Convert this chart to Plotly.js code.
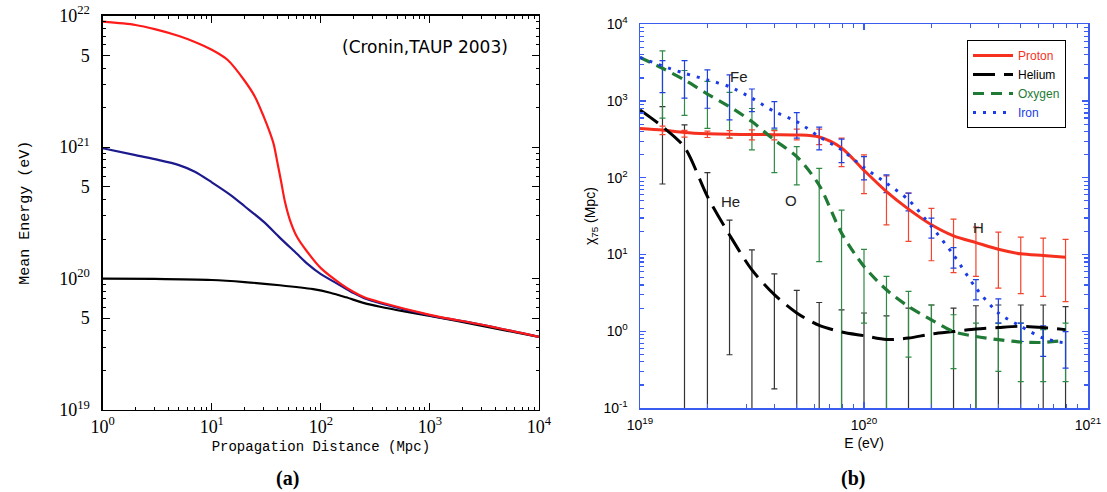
<!DOCTYPE html>
<html>
<head>
<meta charset="utf-8">
<script src="https://cdn.plot.ly/plotly-3.0.1.min.js"></script>
<style>html,body{margin:0;padding:0;background:#fff;}#chart{width:1107px;height:492px;}</style>
</head>
<body>
<div id="chart"></div>
<script>
// ---------- Panel (a): mean energy vs propagation distance ----------
const distRed = [1, 2, 3, 5, 7, 10, 14, 20, 25, 30, 34, 37, 40, 43, 47, 52, 60, 75, 100, 150, 200, 250, 350, 1000, 3000, 10000];
const energyRed = [9.0e21, 8.5e21, 7.9e21, 7.0e21, 6.3e21, 5.5e21, 4.6e21, 3.2e21, 2.4e21, 1.7e21, 1.3e21, 1.05e21, 7.6e20, 5.6e20, 3.8e20, 2.8e20, 2.1e20, 1.6e20, 1.2e20, 9.2e19, 7.9e19, 7.2e19, 6.6e19, 5.3e19, 4.45e19, 3.6e19];
const distBlue = [1, 2, 3, 5, 7, 10, 15, 20, 30, 42, 60, 75, 100, 150, 200, 250, 350, 1000, 3000, 10000];
const energyBlue = [9.8e20, 8.7e20, 8.1e20, 7.3e20, 6.5e20, 5.4e20, 4.3e20, 3.55e20, 2.7e20, 2.05e20, 1.55e20, 1.3e20, 1.08e20, 8.9e19, 7.75e19, 7.1e19, 6.5e19, 5.25e19, 4.45e19, 3.6e19];
const distBlack = [1, 3, 10, 20, 42, 85, 122, 170, 250, 350, 600, 1000, 2860, 10000];
const energyBlack = [1.0e20, 9.95e19, 9.75e19, 9.4e19, 8.9e19, 8.3e19, 7.8e19, 7.2e19, 6.5e19, 6.1e19, 5.6e19, 5.2e19, 4.4e19, 3.6e19];

const aXTickVals = [1, 10, 100, 1000, 10000];
const aXTickText = ['10<sup>0</sup>', '10<sup>1</sup>', '10<sup>2</sup>', '10<sup>3</sup>', '10<sup>4</sup>'];
const aYTickVals = [1e19, 5e19, 1e20, 5e20, 1e21, 5e21, 1e22];
const aYTickText = ['10<sup>19</sup>', '5', '10<sup>20</sup>', '5', '10<sup>21</sup>', '5', '10<sup>22</sup>'];

// ---------- Panel (b): chi_75 vs energy ----------
const energyCurve = [1.0e19, 1.26e19, 1.58e19, 2.0e19, 2.51e19, 3.16e19, 3.98e19, 5.01e19, 6.31e19, 7.94e19, 1.0e20, 1.26e20, 1.58e20, 2.0e20, 2.51e20, 3.16e20, 3.98e20, 5.01e20, 6.31e20, 7.94e20];
const energyBars = [1.26e19, 1.58e19, 2.0e19, 2.51e19, 3.16e19, 3.98e19, 5.01e19, 6.31e19, 7.94e19, 1.0e20, 1.26e20, 1.58e20, 2.0e20, 2.51e20, 3.16e20, 3.98e20, 5.01e20, 6.31e20, 7.94e20];

const protonChi = [440, 420, 390, 375, 368, 366, 365, 362, 340, 245, 125, 66, 39, 24.4, 17.5, 14.3, 11.7, 10.2, 9.7, 9.2];
const protonHi = [470, 415, 405, 412, 420, 412, 430, 430, 328, 199, 106, 63, 40, 29, 22.8, 19.6, 16.9, 16.4, 15.8];
const protonLo = [365, 338, 335, 328, 311, 311, 311, 270, 140, 62, 24.4, 14.8, 8.3, 5.8, 5.2, 3.65, 3.1, 2.84, 2.44];

const heliumChi = [766, 464, 250, 57, 18, 6.3, 3.0, 1.73, 1.19, 0.98, 0.875, 0.78, 0.815, 0.92, 0.99, 1.07, 1.12, 1.16, 1.12, 1.05];
const heliumHi = [845, 489, 117, 28, 11.5, 5.6, 3.4, 2.37, 1.9, 1.73, 1.59, 2.0, 2.2, 2.0, 2.15, 2.2, 2.2, 2.2, 2.1];
const heliumLo = [83, 0.01, 0.01, 0.494, 0.01, 0.177, 0.01, 0.01, 0.01, 0.01, 0.01, 0.01, 0.01, 0.01, 0.01, 0.01, 0.01, 0.01, 0.01];

const oxygenChi = [3700, 2675, 1885, 1235, 845, 540, 311, 189, 80, 19, 7.0, 3.47, 2.1, 1.41, 0.99, 0.855, 0.776, 0.724, 0.715, 0.76];
const oxygenHi = [4500, 2500, 1800, 1300, 800, 420, 255, 133, 38, 11.7, 5.2, 3.3, 2.2, 1.64, 1.28, 1.28, 1.28, 1.05, 1.28];
const oxygenLo = [600, 650, 440, 330, 231, 117, 81, 8.1, 0.01, 1.28, 0.01, 0.46, 0.01, 0.325, 0.01, 0.3, 0.22, 0.22, 0.22];

const ironChi = [3700, 2860, 2300, 1885, 1540, 1090, 728, 540, 344, 231, 136, 85, 51.5, 23.2, 9.9, 3.66, 1.73, 1.16, 0.815, 0.70];
const ironHi = [3360, 3360, 2540, 2190, 1435, 982, 706, 456, 318, 189, 109, 63, 29.8, 12.3, 4.7, 2.65, 1.28, 1.18, 0.99];
const ironLo = [1285, 1090, 805, 567, 728, 443, 328, 231, 158, 94, 64, 37, 16.4, 6.65, 2.57, 1.28, 0.735, 0.47, 0.33];

const bXTickVals = [1e19, 1e20, 1e21];
const bXTickText = ['10<sup>19</sup>', '10<sup>20</sup>', '10<sup>21</sup>'];
const bYTickVals = [0.1, 1, 10, 100, 1000, 10000];
const bYTickText = ['10<sup>-1</sup>', '10<sup>0</sup>', '10<sup>1</sup>', '10<sup>2</sup>', '10<sup>3</sup>', '10<sup>4</sup>'];

const legendNames = ['Proton', 'Helium', 'Oxygen', 'Iron'];

// ---------- helpers ----------
function minorVals(lo, hi, skipFive) {
  const out = [];
  for (let e = lo; e < hi; e++) for (let m = 2; m <= 9; m++) {
    if (skipFive && m === 5) continue;
    out.push(m * Math.pow(10, e));
  }
  return out;
}
const W = 1107, H = 492;
const px = x => x / W, py = y => (H - y) / H;

function barTrace(yCurve, hi, lo, color) {
  const y = yCurve.slice(1);
  return {
    x: energyBars, y: y, xaxis: 'x2', yaxis: 'y2', type: 'scatter', mode: 'markers',
    marker: {size: 1, color: 'rgba(0,0,0,0)'}, showlegend: false, hoverinfo: 'skip',
    error_y: {type: 'data', symmetric: false,
      array: hi.map((h, i) => Math.max(0, h - y[i])),
      arrayminus: lo.map((l, i) => Math.max(0, y[i] - l)),
      color: color, thickness: 1.2, width: 3}
  };
}

const traces = [
  // panel (a)
  {x: distBlack, y: energyBlack, xaxis: 'x', yaxis: 'y', mode: 'lines', line: {color: '#000000', width: 2.2, shape: 'spline', smoothing: 0.8}, showlegend: false},
  {x: distBlue, y: energyBlue, xaxis: 'x', yaxis: 'y', mode: 'lines', line: {color: '#1c1a8c', width: 2.2, shape: 'spline', smoothing: 0.8}, showlegend: false},
  {x: distRed, y: energyRed, xaxis: 'x', yaxis: 'y', mode: 'lines', line: {color: '#ff1a1a', width: 2.2, shape: 'spline', smoothing: 0.8}, showlegend: false},
  // panel (b) error bars
  barTrace(heliumChi, heliumHi, heliumLo, '#333333'),
  barTrace(oxygenChi, oxygenHi, oxygenLo, '#2f8a45'),
  barTrace(protonChi, protonHi, protonLo, '#f2442e'),
  barTrace(ironChi, ironHi, ironLo, '#2140e0'),
  // panel (b) curves
  {x: energyCurve, y: protonChi, xaxis: 'x2', yaxis: 'y2', mode: 'lines', name: '<span style="color:#f5301f">' + legendNames[0] + '</span>', line: {color: '#f5301f', width: 3, shape: 'spline', smoothing: 0.8}},
  {x: energyCurve, y: heliumChi, xaxis: 'x2', yaxis: 'y2', mode: 'lines', name: '<span style="color:#000">' + legendNames[1] + '</span>', line: {color: '#000000', width: 3, dash: '22px,9px', shape: 'spline', smoothing: 0.8}},
  {x: energyCurve, y: oxygenChi, xaxis: 'x2', yaxis: 'y2', mode: 'lines', name: '<span style="color:#1e7a34">' + legendNames[2] + '</span>', line: {color: '#1e7a34', width: 3.2, dash: '11px,7px', shape: 'spline', smoothing: 0.8}},
  {x: energyCurve, y: ironChi, xaxis: 'x2', yaxis: 'y2', mode: 'lines', name: '<span style="color:#1a3be6">' + legendNames[3] + '</span>', line: {color: '#1a3be6', width: 3, dash: '3px,7px', shape: 'spline', smoothing: 0.8}}
];

const serif = 'Liberation Serif, serif';
const mono = 'Liberation Mono, monospace';
const sans = 'Liberation Sans, Arial, sans-serif';

const layout = {
  width: W, height: H,
  margin: {l: 0, r: 0, t: 0, b: 0},
  paper_bgcolor: '#ffffff', plot_bgcolor: '#ffffff',
  showlegend: true,
  legend: {x: px(967), y: py(40), xanchor: 'left', yanchor: 'top', bgcolor: '#ffffff', bordercolor: '#000000', borderwidth: 1,
           font: {family: sans, size: 12, color: '#000'}, itemwidth: 40, tracegroupgap: 0},
  xaxis: {
    type: 'log', domain: [px(102.7), px(539)], range: [0, 4], anchor: 'y',
    showline: true, linecolor: '#000', linewidth: 1.3, mirror: 'ticks', showgrid: false, zeroline: false,
    ticks: 'inside', ticklen: 7, tickcolor: '#000', tickwidth: 1,
    tickmode: 'array', tickvals: aXTickVals, ticktext: aXTickText,
    minor: {tickmode: 'array', tickvals: minorVals(0, 4, false), ticks: 'inside', ticklen: 3.5, tickcolor: '#000', showgrid: false},
    tickfont: {family: serif, size: 18, color: '#000'},
    title: {text: 'Propagation Distance (Mpc)', font: {family: mono, size: 14, color: '#000'}, standoff: 5},
    automargin: false
  },
  yaxis: {
    type: 'log', domain: [py(410), py(15.7)], range: [19, 22], anchor: 'x',
    showline: true, linecolor: '#000', linewidth: 1.3, mirror: 'ticks', showgrid: false, zeroline: false,
    ticks: 'inside', ticklen: 7, tickcolor: '#000', tickwidth: 1,
    tickmode: 'array', tickvals: aYTickVals, ticktext: aYTickText,
    minor: {tickmode: 'array', tickvals: minorVals(19, 22, true), ticks: 'inside', ticklen: 3.5, tickcolor: '#000', showgrid: false},
    tickfont: {family: serif, size: 18, color: '#000'},
    ticklabelstandoff: 8,
    title: {text: 'Mean Energy (eV)', font: {family: mono, size: 15, color: '#000'}, standoff: 26},
    automargin: false
  },
  xaxis2: {
    type: 'log', domain: [px(640), px(1088)], range: [19, 21], anchor: 'y2',
    showline: true, linecolor: '#3a5cf0', linewidth: 1.5, mirror: 'ticks', showgrid: false, zeroline: false,
    ticks: 'inside', ticklen: 6, tickcolor: '#3a5cf0', tickwidth: 1.2,
    tickmode: 'array', tickvals: bXTickVals, ticktext: bXTickText,
    minor: {tickmode: 'array', tickvals: minorVals(19, 21, false), ticks: 'inside', ticklen: 4, tickcolor: '#3a5cf0', showgrid: false},
    tickfont: {family: sans, size: 14, color: '#000'},
    ticklabelstandoff: 4,
    title: {text: 'E (eV)', font: {family: sans, size: 14, color: '#000'}, standoff: 6},
    automargin: false
  },
  yaxis2: {
    type: 'log', domain: [py(408), py(24.3)], range: [-1, 4], anchor: 'x2',
    showline: true, linecolor: '#3a5cf0', linewidth: 1.5, mirror: 'ticks', showgrid: false, zeroline: false,
    ticks: 'inside', ticklen: 6, tickcolor: '#3a5cf0', tickwidth: 1.2,
    tickmode: 'array', tickvals: bYTickVals, ticktext: bYTickText,
    minor: {tickmode: 'array', tickvals: minorVals(-1, 4, false), ticks: 'inside', ticklen: 4, tickcolor: '#3a5cf0', showgrid: false},
    tickfont: {family: sans, size: 14, color: '#000'},
    ticklabelstandoff: 8,
    title: {text: 'χ<sub>75</sub> (Mpc)', font: {family: sans, size: 14, color: '#000'}, standoff: 4},
    automargin: false
  },
  annotations: [
    {text: '(Cronin,TAUP 2003)', xref: 'paper', yref: 'paper', x: px(425), y: py(47), showarrow: false, xanchor: 'center', yanchor: 'middle', font: {family: 'DejaVu Sans, sans-serif', size: 17, color: '#000'}},
    {text: '<b>(a)</b>', xref: 'paper', yref: 'paper', x: px(287), y: py(478), showarrow: false, xanchor: 'center', yanchor: 'middle', font: {family: serif, size: 20, color: '#000'}},
    {text: '<b>(b)</b>', xref: 'paper', yref: 'paper', x: px(853), y: py(478), showarrow: false, xanchor: 'center', yanchor: 'middle', font: {family: serif, size: 20, color: '#000'}},
    {text: 'Fe', xref: 'paper', yref: 'paper', x: px(750), y: py(66), showarrow: false, font: {family: sans, size: 15, color: '#222'}},
    {text: 'He', xref: 'paper', yref: 'paper', x: px(730), y: py(202), showarrow: false, font: {family: sans, size: 15, color: '#222'}},
    {text: 'O', xref: 'paper', yref: 'paper', x: px(799), y: py(200), showarrow: false, font: {family: sans, size: 15, color: '#222'}},
    {text: 'H', xref: 'paper', yref: 'paper', x: px(986), y: py(228), showarrow: false, font: {family: sans, size: 15, color: '#222'}}
  ]
};

Plotly.newPlot('chart', traces, layout, {displayModeBar: false, staticPlot: true});
</script>
</body>
</html>
